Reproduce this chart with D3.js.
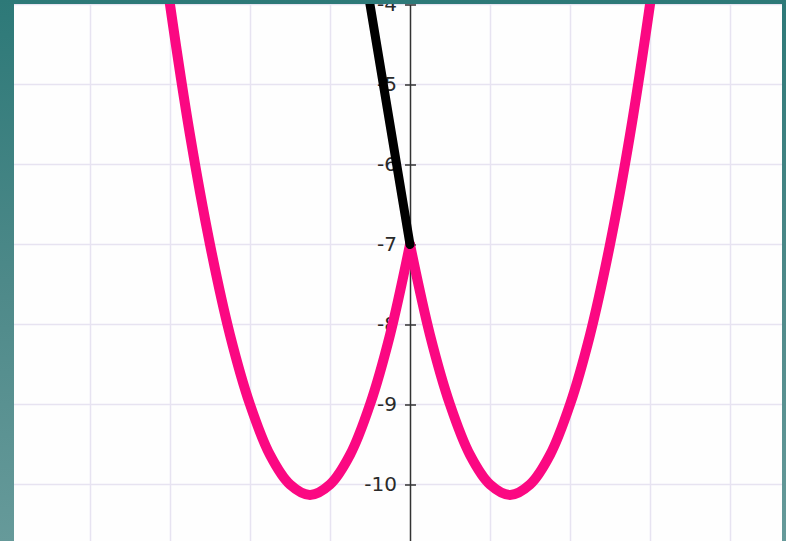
<!DOCTYPE html>
<html>
<head>
<meta charset="utf-8">
<script src="https://cdn.jsdelivr.net/npm/d3@7"></script>
<style>
  html, body { margin: 0; padding: 0; overflow: hidden; }
  svg { display: block; }
</style>
</head>
<body>
<svg id="chart"></svg>
<script>
// values
var leftX  = [-3.2, -3, -2.75, -2.5, -2.25, -2, -1.75, -1.5, -1.25, -1, -0.75, -0.5, -0.25, 0];
var leftY  = [-2.52, -4, -5.63, -7, -8.13, -9, -9.63, -10, -10.13, -10, -9.63, -9, -8.13, -7];
var rightX = [0, 0.25, 0.5, 0.75, 1, 1.25, 1.5, 1.75, 2, 2.25, 2.5, 2.75, 3, 3.2];
var rightY = [-7, -8.13, -9, -9.63, -10, -10.13, -10, -9.63, -9, -8.13, -7, -5.63, -4, -2.52];
var lineX  = [-0.6, 0];
var lineY  = [-3.4, -7];
var gridX  = [-5, -4, -3, -2, -1, 1, 2, 3, 4];
var yTicks = [-4, -5, -6, -7, -8, -9, -10];

var W = 786, H = 541;
var plot = { left: 14, top: 4, right: 782, bottom: 541 };

var svg = d3.select("#chart").attr("width", W).attr("height", H);

var defs = svg.append("defs");
var grad = defs.append("linearGradient")
    .attr("id", "bg").attr("x1", 0).attr("y1", 0).attr("x2", 0).attr("y2", 1);
grad.append("stop").attr("offset", "0%").attr("stop-color", "#2d7978");
grad.append("stop").attr("offset", "55%").attr("stop-color", "#4f8a8a");
grad.append("stop").attr("offset", "100%").attr("stop-color", "#669a9a");

defs.append("clipPath").attr("id", "clip")
  .append("rect")
    .attr("x", plot.left).attr("y", plot.top)
    .attr("width", plot.right - plot.left).attr("height", plot.bottom - plot.top);

svg.append("rect").attr("width", W).attr("height", H).attr("fill", "url(#bg)");
svg.append("rect")
    .attr("x", plot.left).attr("y", plot.top)
    .attr("width", plot.right - plot.left).attr("height", plot.bottom - plot.top)
    .attr("fill", "#fefefe");

// 80px per unit, origin column at x=410, y=-7 at 244.5
var x = d3.scaleLinear().domain([-5, 5]).range([10, 810]);
var y = d3.scaleLinear().domain([-4, -11]).range([4.5, 564.5]);

var g = svg.append("g").attr("clip-path", "url(#clip)");

// grid
g.append("g").selectAll("line").data(gridX).join("line")
    .attr("x1", d => Math.round(x(d)) + 0.5).attr("x2", d => Math.round(x(d)) + 0.5)
    .attr("y1", plot.top).attr("y2", plot.bottom)
    .attr("stroke", "#e7e3f1").attr("stroke-width", 1.5);
g.append("g").selectAll("line").data(yTicks).join("line")
    .attr("x1", plot.left).attr("x2", plot.right)
    .attr("y1", d => y(d)).attr("y2", d => y(d))
    .attr("stroke", "#e7e3f1").attr("stroke-width", 1.5);

// y axis on x = 0
var axis = g.append("g")
    .attr("transform", "translate(" + x(0) + ",0)")
    .call(d3.axisLeft(y).tickValues(yTicks).tickSizeInner(5).tickSizeOuter(0)
        .tickPadding(8).tickFormat(d3.format("d")));
axis.select(".domain").attr("stroke", "#333").attr("stroke-width", 1.5);
axis.selectAll(".tick line").attr("x1", 6).attr("x2", -5)
    .attr("stroke", "#333").attr("stroke-width", 1.5);
axis.selectAll(".tick text")
    .attr("font-family", "'DejaVu Sans', sans-serif")
    .attr("font-size", 20)
    .attr("fill", "#2a2a2a")
    .text(d => d3.format("d")(d).replace("−", "-"));

// curves
var curve = d3.line()
    .x(d => x(d[0])).y(d => y(d[1]))
    .curve(d3.curveCatmullRom);

[[leftX, leftY], [rightX, rightY]].forEach(function(s) {
    g.append("path")
        .datum(d3.zip(s[0], s[1]))
        .attr("d", curve)
        .attr("fill", "none")
        .attr("stroke", "#fb0882")
        .attr("stroke-width", 10)
        .attr("stroke-linecap", "round")
        .attr("stroke-linejoin", "round");
});

g.append("path")
    .datum(d3.zip(lineX, lineY))
    .attr("d", d3.line().x(d => x(d[0])).y(d => y(d[1])))
    .attr("fill", "none")
    .attr("stroke", "#000")
    .attr("stroke-width", 9)
    .attr("stroke-linecap", "round");
</script>
</body>
</html>
